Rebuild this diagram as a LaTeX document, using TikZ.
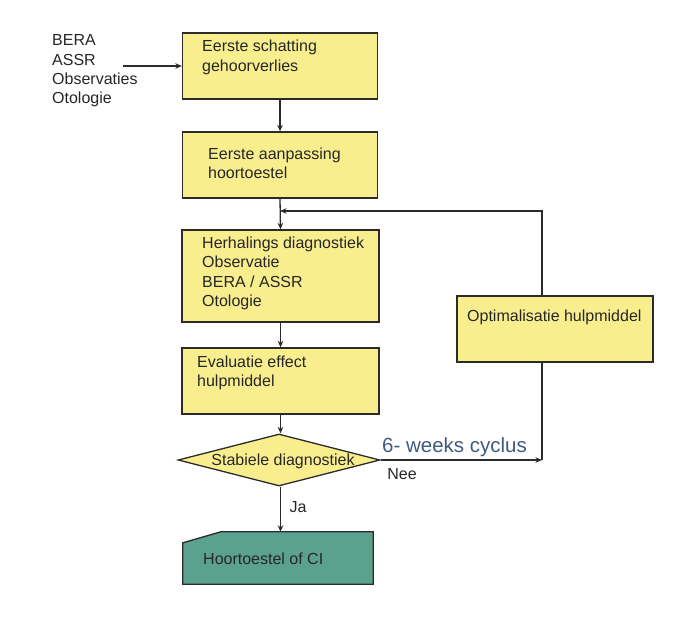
\documentclass[tikz,border=0pt]{standalone}
\usepackage{fontspec}
\setmainfont{Liberation Sans}
\usetikzlibrary{shapes.geometric, arrows.meta, positioning}

\definecolor{boxyellow}{HTML}{F9EE8E}
\definecolor{boxgreen}{HTML}{5AA28D}
\definecolor{linegray}{HTML}{2B2B2B}
\definecolor{cycblue}{HTML}{3F5B80}

\tikzset{
	box/.style={rectangle, draw=linegray, line width=1.3pt, fill=boxyellow, inner sep=0pt},
	txt/.style={anchor=west, align=left, inner sep=0pt, text=black!85, font=\fontsize{16}{19.3}\selectfont},
	line/.style={draw=linegray, line width=1.3pt},
	arrow/.style={line, -{Stealth[length=6.5pt,width=5.5pt]}}
}

\begin{document}
\begin{tikzpicture}[x=1pt,y=-1pt]
				\useasboundingbox (0,0) rectangle (694,621);
				% boxes
				\node[box, minimum width=195pt, minimum height=66pt] (b1) at (280,66) {};
				\node[box, minimum width=195pt, minimum height=66pt] (b2) at (280,165) {};
				\node[box, minimum width=197pt, minimum height=92pt] (b3) at (280.5,276) {};
				\node[box, minimum width=197pt, minimum height=66pt] (b4) at (280.5,381) {};
				\node[box, minimum width=196pt, minimum height=66pt] (opt) at (555,329) {};
				\node[diamond, draw=linegray, line width=1.3pt, fill=boxyellow, inner sep=0pt,
					shape aspect=3.9, minimum width=202pt, minimum height=52pt] (dia) at (279,460) {};
				\node[rectangle, inner sep=0pt, minimum width=190pt, minimum height=52pt] (fin) at (278,558) {};
				\fill[boxgreen, draw=linegray, line width=1.3pt] (fin.south west) -- ([yshift=-11pt]fin.north west)
					-- ([xshift=38pt]fin.north west) -- (fin.north east) -- (fin.south east) -- cycle;
				% texts
				\node[txt] (src) at (52,71) {BERA\\ASSR\\Observaties\\Otologie};
				\node[txt] (t1) at (202,57.5) {Eerste schatting\\gehoorverlies};
				\node[txt] (t2) at (208,163) {Eerste aanpassing\\hoortoestel};
				\node[txt] (t3) at (202,273.5) {Herhalings diagnostiek\\Observatie\\BERA / ASSR\\Otologie};
				\node[txt] (t4) at (197,372.7) {Evaluatie effect\\hulpmiddel};
				\node[txt] (topt) at (467,317) {Optimalisatie hulpmiddel};
				\node[txt, anchor=center] (tdia) at (283,461) {Stabiele diagnostiek};
				\node[txt] (tfin) at (203,559) {Hoortoestel of CI};
				\node[txt, anchor=center, text=cycblue, font=\fontsize{20.5}{24}\selectfont] (cyc) at (454.5,447) {6- weeks cyclus};
				\node[txt, anchor=center] (nee) at (402,474) {Nee};
				\node[txt, anchor=center] (ja) at (298,507) {Ja};
				% connectors
				\coordinate (inp) at (123,66);
				\coordinate (turn) at (542,460);
				\coordinate (top) at (542,211);
				\draw[arrow] (inp) -- (b1.west);
				\draw[arrow] (b1.south) -- (b2.north);
				\draw[arrow] (b2.south) -- (b3.north);
				\draw[arrow] (b3.south) -- (b4.north);
				\draw[arrow] (b4.south) -- (dia.north -| b4.south);
				\draw[arrow] (dia.south -| b4.south) -- (fin.north -| b4.south);
				\draw[arrow] (dia.east) -- (turn);
				\draw[line] (turn) -- (opt.south -| turn);
				\draw[arrow] (opt.north -| turn) -- (top) -- (b2.south |- top);
			\end{tikzpicture}
\end{document}
